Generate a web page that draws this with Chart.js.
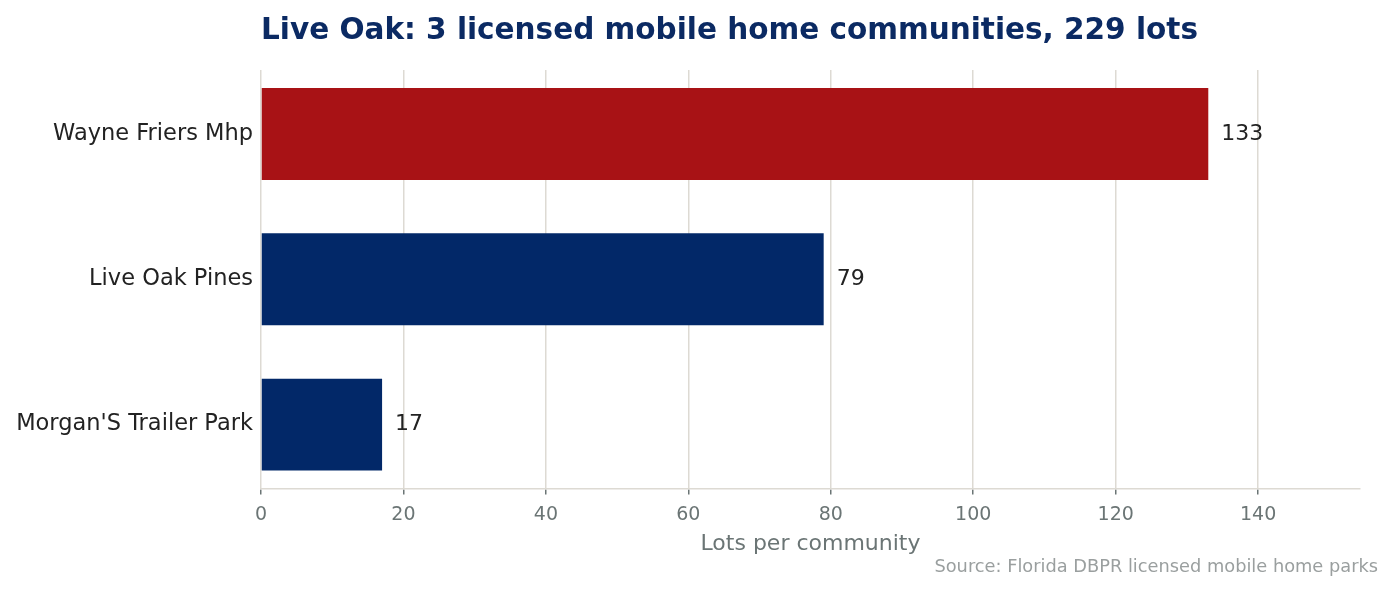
<!DOCTYPE html>
<html lang="en">
<head>
<meta charset="UTF-8">
<title>Live Oak mobile home communities</title>
<script src="https://cdn.jsdelivr.net/npm/chart.js"></script>
<style>
html, body { margin: 0; padding: 0; background: #fff; }
#wrap { width: 1395px; height: 593px; position: relative; }
</style>
</head>
<body>
<div id="wrap"><canvas id="lotsChart"></canvas></div>
<script>
// data
const communities = ['Wayne Friers Mhp', 'Live Oak Pines', "Morgan'S Trailer Park"];
const lots = [133, 79, 17];
const barColors = ['#a81215', '#022868', '#022868'];
const xTicks = [0, 20, 40, 60, 80, 100, 120, 140];

const titleText = 'Live Oak: 3 licensed mobile home communities, 229 lots';
const sourceText = 'Source: Florida DBPR licensed mobile home parks';
const FONT = "'DejaVu Sans', sans-serif";

// title, source line and value labels
const extras = {
  id: 'extras',
  afterDatasetsDraw(chart) {
    const c = chart.ctx;
    const area = chart.chartArea;
    c.save();
    c.font = 'bold 29.5px ' + FONT;
    c.fillStyle = '#0b2a63';
    c.textAlign = 'left';
    c.textBaseline = 'middle';
    c.fillText(titleText, area.left, 31);

    c.font = '17.8px ' + FONT;
    c.fillStyle = '#9a9f9f';
    c.textAlign = 'right';
    c.fillText(sourceText, 1378, 567);

    c.font = '22px ' + FONT;
    c.fillStyle = '#222';
    c.textAlign = 'left';
    chart.getDatasetMeta(0).data.forEach((bar, i) => {
      c.fillText(String(lots[i]), bar.x + 13, bar.y);
    });
    c.restore();
  }
};

new Chart(document.getElementById('lotsChart'), {
  type: 'bar',
  data: {
    datasets: [{
      data: lots.map((v, i) => ({ x: v, y: i })),
      backgroundColor: barColors,
      barPercentage: 0.632,
      categoryPercentage: 1.0
    }]
  },
  options: {
    indexAxis: 'y',
    responsive: true,
    maintainAspectRatio: false,
    animation: false,
    layout: { padding: { top: 70, right: 35, left: 0, bottom: 36 } },
    plugins: {
      legend: { display: false },
      tooltip: { enabled: false }
    },
    scales: {
      x: {
        type: 'linear',
        min: 0,
        max: 154.3,
        afterBuildTicks(axis) { axis.ticks = xTicks.map(v => ({ value: v })); },
        grid: { color: '#dddad3', lineWidth: 1.5, tickColor: '#6b7575', tickLength: 6 },
        border: { color: '#dddad3', width: 1.5 },
        ticks: { color: '#6b7575', font: { family: FONT, size: 19, lineHeight: 1.0 }, padding: 11 },
        title: {
          display: true,
          text: 'Lots per community',
          color: '#6b7575',
          font: { family: FONT, size: 22 },
          padding: { top: -5, bottom: 0 }
        }
      },
      y: {
        type: 'linear',
        reverse: true,
        offset: false,
        min: -0.44,
        max: 2.44,
        afterBuildTicks(axis) { axis.ticks = communities.map((n, i) => ({ value: i })); },
        afterFit(axis) { axis.width = 261; },
        grid: { display: false, offset: false, drawTicks: false, tickLength: 0 },
        border: { display: false },
        ticks: {
          color: '#222',
          font: { family: FONT, size: 22.5 },
          padding: 8,
          callback: v => communities[v]
        }
      }
    }
  },
  plugins: [extras]
});
</script>
</body>
</html>
